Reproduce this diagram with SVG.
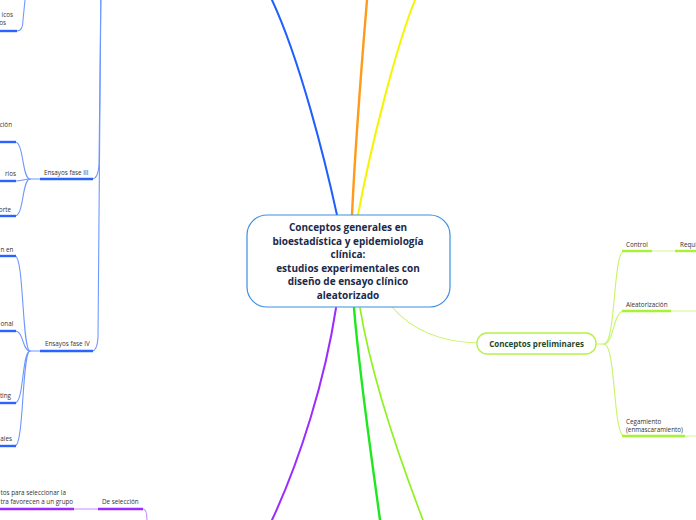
<svg xmlns="http://www.w3.org/2000/svg" width="696" height="520" viewBox="0 0 696 520">
<style>
text{font-family:"Open Sans","Noto Sans","DejaVu Sans",sans-serif;fill:#333;}
.lbl{font-size:6.3px;}
.end{text-anchor:end;}
.ctr{font-size:10px;font-weight:bold;fill:#1b2a4a;text-anchor:middle;}
.cp{font-size:8px;font-weight:bold;fill:#1c4a2a;text-anchor:middle;}
.c{fill:none;stroke-linecap:round;}
.blue{stroke:#1f5fff;stroke-width:2;}
.orange{stroke:#ff9a1a;stroke-width:2.4;}
.yellow{stroke:#f5f500;stroke-width:2;}
.purple{stroke:#9a2cff;stroke-width:2;}
.green{stroke:#1de81d;stroke-width:2.4;}
.lime{stroke:#8cf21c;stroke-width:1.6;}
.lb{stroke:#6f98ff;stroke-width:1.1;}
.lp{stroke:#c98cff;stroke-width:1.1;}
.ly{stroke:#c6f46a;stroke-width:1.1;}
.lyl{stroke:#e2fab8;stroke-width:1.6;}
.ub{stroke:#2a63ff;stroke-width:2.4;fill:none;}
.up{stroke:#9a2cff;stroke-width:2.4;fill:none;}
.uy{stroke:#a8f236;stroke-width:2.4;fill:none;}
</style>
<rect width="696" height="520" fill="#fff"/>
<g id="connectors">
<path class="c blue" d="M337,215 C325,160 300,60 272,0"/>
<path class="c orange" d="M352,215 C355,150 362,60 367,0"/>
<path class="c yellow" d="M358,215 C370,150 395,50 415,0"/>
<path class="c purple" d="M336,308 C325,380 300,460 272,520"/>
<path class="c green" d="M354,308 C360,380 372,460 380,520"/>
<path class="c lime" d="M360,308 C372,380 400,460 423,520"/>
<path class="c ly" d="M392,307 C405,322 430,342 478,343"/>
<path class="c ly" d="M596,344 L604,344 C616,344 613,251 624,251"/>
<path class="c ly" d="M604,344 C614,344 613,311 624,311"/>
<path class="c ly" d="M604,344 C616,344 613,436 624,436"/>
<path class="c lyl" d="M652,251 L675,251"/>
<path class="c lyl" d="M671,311 L696,311"/>
<path class="c lyl" d="M685,436 L696,436"/>
<path class="c lb" d="M101,-20 L99,165 Q98,179 92,179"/>
<path class="c lb" d="M101,-20 L98,338 Q97,351 92,351"/>
<path class="c lb" d="M17,31 Q23,31 23,20 L25,0"/>
<path class="c lb" d="M40,179 L30,179 C22,179 24,142 15,142"/>
<path class="c lb" d="M30,179 C24,179 22,181 15,181"/>
<path class="c lb" d="M30,179 C22,179 24,216 15,216"/>
<path class="c lb" d="M40,351 L30,351 C22,351 24,256 15,256"/>
<path class="c lb" d="M30,351 C22,351 24,331 15,331"/>
<path class="c lb" d="M30,351 C22,351 24,403 15,403"/>
<path class="c lb" d="M30,351 C22,351 24,446 15,446"/>
<path class="c lp" d="M74,509 L98,509"/>
<path class="c lp" d="M143,509 Q147,509 147,520"/>
</g>
<g id="center">
<rect x="247" y="215" width="203" height="92" rx="20" fill="#fff" stroke="#3c8ee2" stroke-width="1.2"/>
<text class="ctr" x="348" y="231">Conceptos generales en</text>
<text class="ctr" x="348" y="244.5">bioestadística y epidemiología</text>
<text class="ctr" x="348" y="258">clínica:</text>
<text class="ctr" x="348" y="271.5">estudios experimentales con</text>
<text class="ctr" x="348" y="285">diseño de ensayo clínico</text>
<text class="ctr" x="348" y="298.5">aleatorizado</text>
</g>
<g id="conceptos-preliminares">
<rect x="477" y="333" width="119" height="21" rx="10" fill="#fff" stroke="#b4f245" stroke-width="1.4"/>
<text class="cp" x="536.5" y="346.5">Conceptos preliminares</text>
</g>
<g id="control">
<line class="uy" x1="622" y1="251" x2="652" y2="251"/>
<text class="lbl" x="626" y="247">Control</text>
</g>
<g id="requisitos">
<line class="uy" x1="675" y1="251" x2="696" y2="251"/>
<text class="lbl" x="680" y="247">Requi</text>
</g>
<g id="aleatorizacion">
<line class="uy" x1="622" y1="311" x2="671" y2="311"/>
<text class="lbl" x="626" y="307">Aleatorización</text>
</g>
<g id="cegamiento">
<line class="uy" x1="622" y1="436" x2="685" y2="436"/>
<text class="lbl" x="626" y="423.5">Cegamiento</text>
<text class="lbl" x="626" y="431.5">(enmascaramiento)</text>
</g>
<g id="nodo-clinicos">
<line class="ub" x1="0" y1="31" x2="17" y2="31"/>
<text class="lbl end" x="13" y="17">icos</text>
<text class="lbl end" x="6" y="25">os</text>
</g>
<g id="ensayos-fase-iii">
<line class="ub" x1="40" y1="179" x2="93" y2="179"/>
<text class="lbl" x="44" y="175">Ensayos fase III</text>
</g>
<g id="fase-iii-a">
<line class="ub" x1="0" y1="142" x2="16" y2="142"/>
<text class="lbl end" x="12" y="127">ción</text>
</g>
<g id="fase-iii-b">
<line class="ub" x1="0" y1="181" x2="16" y2="181"/>
<text class="lbl end" x="16" y="176">rios</text>
</g>
<g id="fase-iii-c">
<line class="ub" x1="0" y1="216" x2="16" y2="216"/>
<text class="lbl end" x="11" y="212">orte</text>
</g>
<g id="ensayos-fase-iv">
<line class="ub" x1="40" y1="351" x2="93" y2="351"/>
<text class="lbl" x="45" y="346">Ensayos fase IV</text>
</g>
<g id="fase-iv-a">
<line class="ub" x1="0" y1="256" x2="16" y2="256"/>
<text class="lbl" x="0.5" y="252">n en</text>
</g>
<g id="fase-iv-b">
<line class="ub" x1="0" y1="331" x2="16" y2="331"/>
<text class="lbl" x="0.5" y="326">onal</text>
</g>
<g id="fase-iv-c">
<line class="ub" x1="0" y1="403" x2="16" y2="403"/>
<text class="lbl end" x="11" y="398">ting</text>
</g>
<g id="fase-iv-d">
<line class="ub" x1="0" y1="446" x2="16" y2="446"/>
<text class="lbl end" x="12" y="441">ales</text>
</g>
<g id="sesgo-seleccion-desc">
<line class="up" x1="0" y1="509" x2="74" y2="509"/>
<text class="lbl" x="0.5" y="495">tos para seleccionar la</text>
<text class="lbl" x="0.5" y="504">tra favorecen a un grupo</text>
</g>
<g id="de-seleccion">
<line class="up" x1="98" y1="509" x2="143" y2="509"/>
<text class="lbl" x="102" y="504">De selección</text>
</g>
</svg>
